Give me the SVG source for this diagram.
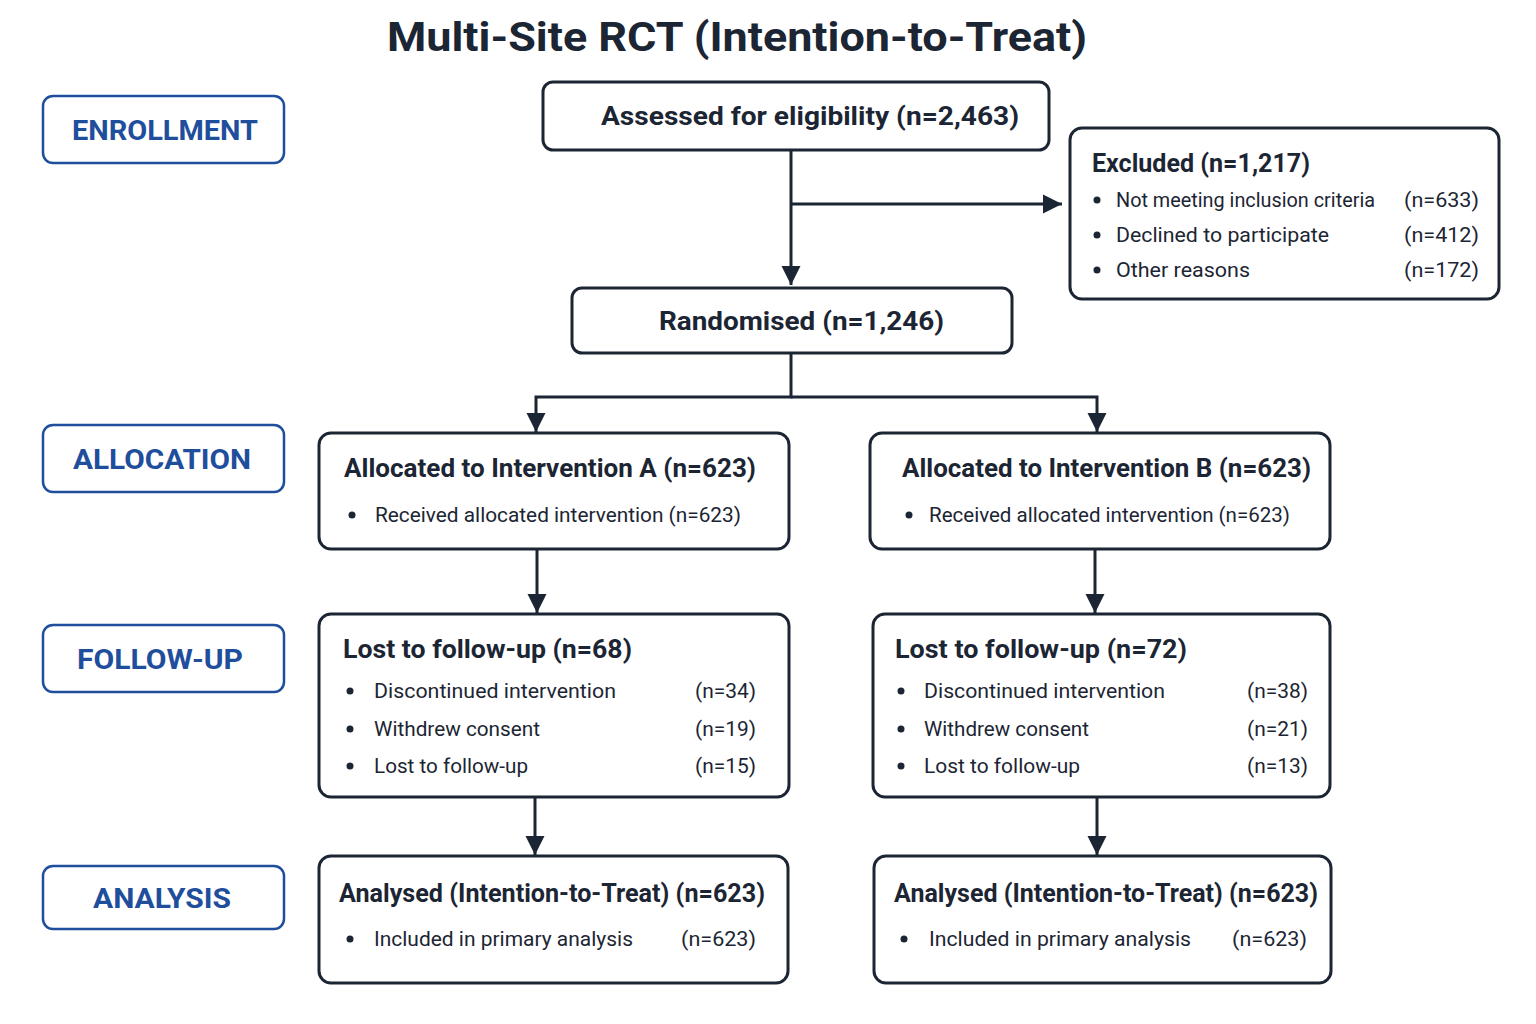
<svg xmlns="http://www.w3.org/2000/svg" width="1536" height="1024" viewBox="0 0 1536 1024">
<style>
.bg{fill:#ffffff}
.node{fill:#ffffff;stroke:#1c2533;stroke-width:3}
.phase{fill:#ffffff;stroke:#1f4e9c;stroke-width:2.5}
.ph{font-family:Roboto,"Liberation Sans",sans-serif;font-weight:700;font-size:28px;fill:#1f4e9c;text-anchor:middle}
.ttl{font-family:Roboto,"Liberation Sans",sans-serif;font-weight:700;font-size:26px;fill:#1c2533}
.txt{font-family:Roboto,"Liberation Sans",sans-serif;font-size:21px;fill:#1c2533}
.title{font-family:Roboto,"Liberation Sans",sans-serif;font-weight:700;font-size:41px;fill:#1c2533;text-anchor:middle}
.con{fill:none;stroke:#1c2533;stroke-width:3}
</style>
<defs>
<marker id="ah" viewBox="0 0 10 10" refX="10" refY="5" markerWidth="6.5" markerHeight="6.5" markerUnits="strokeWidth" orient="auto">
<path d="M0,0 L10,5 L0,10 z" fill="#1c2533"/>
</marker>
</defs>
<rect class="bg" x="0" y="0" width="1536" height="1024"/>
<text class="title" x="737" y="51" textLength="700" lengthAdjust="spacingAndGlyphs">Multi-Site RCT (Intention-to-Treat)</text>

<g id="phase-enrollment"><rect class="phase" x="43" y="96" width="241" height="67" rx="10"/><text class="ph" x="165" y="140" textLength="186" lengthAdjust="spacingAndGlyphs">ENROLLMENT</text></g>
<g id="phase-allocation"><rect class="phase" x="43" y="425" width="241" height="67" rx="10"/><text class="ph" x="162" y="469" textLength="178" lengthAdjust="spacingAndGlyphs">ALLOCATION</text></g>
<g id="phase-followup"><rect class="phase" x="43" y="625" width="241" height="67" rx="10"/><text class="ph" x="160" y="669" textLength="166" lengthAdjust="spacingAndGlyphs">FOLLOW-UP</text></g>
<g id="phase-analysis"><rect class="phase" x="43" y="866" width="241" height="63" rx="10"/><text class="ph" x="162" y="908" textLength="138" lengthAdjust="spacingAndGlyphs">ANALYSIS</text></g>

<g id="connectors">
<path class="con" d="M791,150 V285" marker-end="url(#ah)"/>
<path class="con" d="M791,204 H1062" marker-end="url(#ah)"/>
<path class="con" d="M791,353 V397 H536 V432" marker-end="url(#ah)"/>
<path class="con" d="M791,397 H1097 V432" marker-end="url(#ah)"/>
<path class="con" d="M537,549 V613" marker-end="url(#ah)"/>
<path class="con" d="M1095,549 V613" marker-end="url(#ah)"/>
<path class="con" d="M535,797 V855" marker-end="url(#ah)"/>
<path class="con" d="M1097,797 V855" marker-end="url(#ah)"/>
</g>

<g id="assessed"><rect class="node" x="543" y="82" width="506" height="68" rx="10"/><text class="ttl" x="601" y="125" textLength="418" lengthAdjust="spacingAndGlyphs">Assessed for eligibility (n=2,463)</text></g>

<g id="excluded"><rect class="node" x="1070" y="128" width="429" height="171" rx="12"/>
<text class="ttl" x="1092" y="172" font-size="25" textLength="218" lengthAdjust="spacingAndGlyphs">Excluded (n=1,217)</text>
<circle cx="1097" cy="200" r="3.5" fill="#1c2533"/><text class="txt" x="1116" y="207" textLength="259" lengthAdjust="spacingAndGlyphs">Not meeting inclusion criteria</text><text class="txt" x="1404" y="207" textLength="75" lengthAdjust="spacingAndGlyphs">(n=633)</text>
<circle cx="1097" cy="235" r="3.5" fill="#1c2533"/><text class="txt" x="1116" y="242" textLength="213" lengthAdjust="spacingAndGlyphs">Declined to participate</text><text class="txt" x="1404" y="242" textLength="75" lengthAdjust="spacingAndGlyphs">(n=412)</text>
<circle cx="1097" cy="270" r="3.5" fill="#1c2533"/><text class="txt" x="1116" y="277" textLength="134" lengthAdjust="spacingAndGlyphs">Other reasons</text><text class="txt" x="1404" y="277" textLength="75" lengthAdjust="spacingAndGlyphs">(n=172)</text>
</g>

<g id="randomised"><rect class="node" x="572" y="288" width="440" height="65" rx="10"/><text class="ttl" x="659" y="330" textLength="285" lengthAdjust="spacingAndGlyphs">Randomised (n=1,246)</text></g>

<g id="alloc-a"><rect class="node" x="319" y="433" width="470" height="116" rx="12"/>
<text class="ttl" x="344" y="477" font-size="25" textLength="412" lengthAdjust="spacingAndGlyphs">Allocated to Intervention A (n=623)</text>
<circle cx="352" cy="515" r="3.5" fill="#1c2533"/><text class="txt" x="375" y="522" textLength="366" lengthAdjust="spacingAndGlyphs">Received allocated intervention (n=623)</text>
</g>

<g id="alloc-b"><rect class="node" x="870" y="433" width="460" height="116" rx="12"/>
<text class="ttl" x="902" y="477" font-size="25" textLength="409" lengthAdjust="spacingAndGlyphs">Allocated to Intervention B (n=623)</text>
<circle cx="909" cy="515" r="3.5" fill="#1c2533"/><text class="txt" x="929" y="522" textLength="361" lengthAdjust="spacingAndGlyphs">Received allocated intervention (n=623)</text>
</g>

<g id="lost-a"><rect class="node" x="319" y="614" width="470" height="183" rx="12"/>
<text class="ttl" x="343" y="658" font-size="25" textLength="289" lengthAdjust="spacingAndGlyphs">Lost to follow-up (n=68)</text>
<circle cx="350" cy="691" r="3.5" fill="#1c2533"/><text class="txt" x="374" y="698" textLength="242" lengthAdjust="spacingAndGlyphs">Discontinued intervention</text><text class="txt" x="695" y="698" textLength="61" lengthAdjust="spacingAndGlyphs">(n=34)</text>
<circle cx="350" cy="729" r="3.5" fill="#1c2533"/><text class="txt" x="374" y="736" textLength="166" lengthAdjust="spacingAndGlyphs">Withdrew consent</text><text class="txt" x="695" y="736" textLength="61" lengthAdjust="spacingAndGlyphs">(n=19)</text>
<circle cx="350" cy="766" r="3.5" fill="#1c2533"/><text class="txt" x="374" y="773" textLength="154" lengthAdjust="spacingAndGlyphs">Lost to follow-up</text><text class="txt" x="695" y="773" textLength="61" lengthAdjust="spacingAndGlyphs">(n=15)</text>
</g>

<g id="lost-b"><rect class="node" x="873" y="614" width="457" height="183" rx="12"/>
<text class="ttl" x="895" y="658" font-size="25" textLength="292" lengthAdjust="spacingAndGlyphs">Lost to follow-up (n=72)</text>
<circle cx="901" cy="691" r="3.5" fill="#1c2533"/><text class="txt" x="924" y="698" textLength="241" lengthAdjust="spacingAndGlyphs">Discontinued intervention</text><text class="txt" x="1247" y="698" textLength="61" lengthAdjust="spacingAndGlyphs">(n=38)</text>
<circle cx="901" cy="729" r="3.5" fill="#1c2533"/><text class="txt" x="924" y="736" textLength="165" lengthAdjust="spacingAndGlyphs">Withdrew consent</text><text class="txt" x="1247" y="736" textLength="61" lengthAdjust="spacingAndGlyphs">(n=21)</text>
<circle cx="901" cy="766" r="3.5" fill="#1c2533"/><text class="txt" x="924" y="773" textLength="156" lengthAdjust="spacingAndGlyphs">Lost to follow-up</text><text class="txt" x="1247" y="773" textLength="61" lengthAdjust="spacingAndGlyphs">(n=13)</text>
</g>

<g id="analysed-a"><rect class="node" x="319" y="856" width="469" height="127" rx="12"/>
<text class="ttl" x="339" y="902" font-size="25" textLength="426" lengthAdjust="spacingAndGlyphs">Analysed (Intention-to-Treat) (n=623)</text>
<circle cx="350" cy="939" r="3.5" fill="#1c2533"/><text class="txt" x="374" y="946" textLength="259" lengthAdjust="spacingAndGlyphs">Included in primary analysis</text><text class="txt" x="681" y="946" textLength="75" lengthAdjust="spacingAndGlyphs">(n=623)</text>
</g>

<g id="analysed-b"><rect class="node" x="874" y="856" width="457" height="127" rx="12"/>
<text class="ttl" x="894" y="902" font-size="25" textLength="424" lengthAdjust="spacingAndGlyphs">Analysed (Intention-to-Treat) (n=623)</text>
<circle cx="904" cy="939" r="3.5" fill="#1c2533"/><text class="txt" x="929" y="946" textLength="262" lengthAdjust="spacingAndGlyphs">Included in primary analysis</text><text class="txt" x="1232" y="946" textLength="75" lengthAdjust="spacingAndGlyphs">(n=623)</text>
</g>
</svg>
